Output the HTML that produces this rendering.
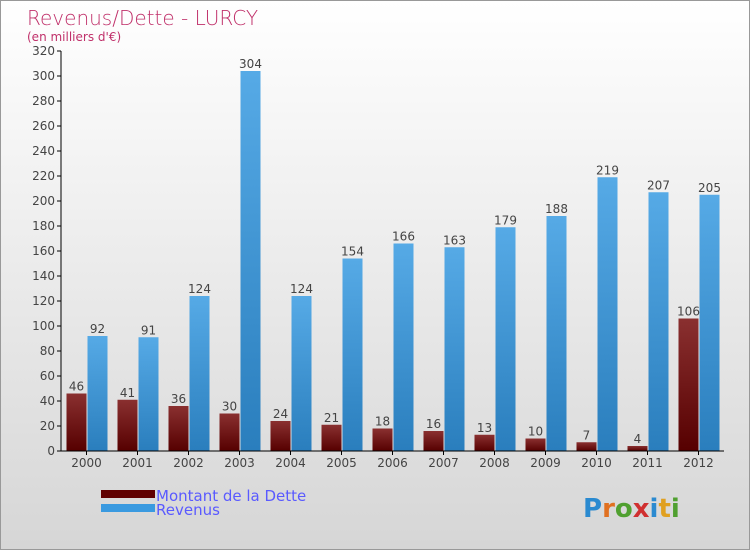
<!DOCTYPE html>
<html><head><meta charset="utf-8"><style>
body{margin:0}
#c{width:750px;height:550px;position:relative;background:linear-gradient(#ffffff,#d6d6d6);box-sizing:border-box;border:1px solid #999;font-family:"DejaVu Sans","Liberation Sans",sans-serif}
</style></head><body>
<div id="c">
<svg id="s" width="750" height="550" style="position:absolute;left:0;top:0">
<defs>
<linearGradient id="gd" x1="0" y1="0" x2="0" y2="1"><stop offset="0" stop-color="#8a3030"/><stop offset="1" stop-color="#560000"/></linearGradient>
<linearGradient id="gr" x1="0" y1="0" x2="0" y2="1"><stop offset="0" stop-color="#56aae6"/><stop offset="1" stop-color="#2a7ebd"/></linearGradient>
</defs>
<text x="26" y="24" font-size="20" fill="#c0306a" font-weight="200">Revenus/Dette - LURCY</text>
<text x="26" y="40" font-size="12" fill="#c0306a">(en milliers d'€)</text>
<g id="g"></g>
<rect x="100" y="489" width="54" height="8" fill="#600000"/>
<text x="155" y="500" font-size="15" fill="#5a5aff">Montant de la Dette</text>
<rect x="100" y="503" width="54" height="8" fill="#3a9ae0"/>
<text x="155" y="514" font-size="15" fill="#5a5aff">Revenus</text>
<text x="582" y="516" font-size="26" font-weight="bold"><tspan fill="#2a8ad0">P</tspan><tspan fill="#e07020">r</tspan><tspan fill="#50a030">o</tspan><tspan fill="#d03030">x</tspan><tspan fill="#2a8ad0">i</tspan><tspan fill="#e0a020">t</tspan><tspan fill="#50a030">i</tspan></text>
</svg>
</div>
<script>
const years=["2000","2001","2002","2003","2004","2005","2006","2007","2008","2009","2010","2011","2012"];
const dette=[46,41,36,30,24,21,18,16,13,10,7,4,106];
const revenus=[92,91,124,304,124,154,166,163,179,188,219,207,205];
const ticks=[0,20,40,60,80,100,120,140,160,180,200,220,240,260,280,300,320];
const NS="http://www.w3.org/2000/svg";
const g=document.getElementById('g');
const x0=60,step=51,y0=450,ymax=320,h=400;
const y=v=>y0-v/ymax*h;
const xc=i=>x0+step*(i+0.5);
function mk(t,a,p){const e=document.createElementNS(NS,t);for(const k in a)e.setAttribute(k,a[k]);(p||g).appendChild(e);return e;}
ticks.forEach(t=>{
 const l=mk('line',{x1:x0-4,x2:x0,y1:y(t),y2:y(t),stroke:'#000'});
 
 
 const tx=mk('text',{x:x0-6,y:y(t)+4,'text-anchor':'end','font-size':12,fill:'#444'});
 tx.textContent=t;
 
 
});
years.forEach((yr,i)=>{
 const c=xc(i);
 const b1=mk('rect',{x:c-20,y:y(dette[i]),width:20,height:y0-y(dette[i]),fill:'url(#gd)'});
 
 
 const b2=mk('rect',{x:c+1,y:y(revenus[i]),width:20,height:y0-y(revenus[i]),fill:'url(#gr)'});
 
 
 const l1=mk('text',{x:c-10,y:y(dette[i])-3,'text-anchor':'middle','font-size':12,fill:'#444'});
 l1.textContent=dette[i];
 
 
 const l2=mk('text',{x:c+11,y:y(revenus[i])-3,'text-anchor':'middle','font-size':12,fill:'#444'});
 l2.textContent=revenus[i];
 
 
 const tk=mk('line',{x1:c,x2:c,y1:y0,y2:y0+4,stroke:'#000'});
 
 
 const xl=mk('text',{x:c,y:y0+16,'text-anchor':'middle','font-size':12,fill:'#444'});
 xl.textContent=yr;
 
 
});
const ya=mk('line',{x1:x0,x2:x0,y1:y(ymax),y2:y0,stroke:'#000'});


const xa=mk('line',{x1:x0,x2:x0+step*13,y1:y0,y2:y0,stroke:'#000'});


</script>
</body></html>
